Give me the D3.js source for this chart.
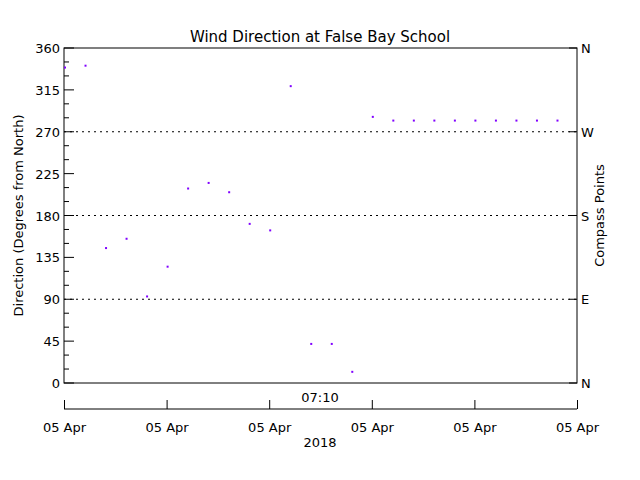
<!DOCTYPE html>
<html lang="en">
<head>
<meta charset="UTF-8">
<title>Wind Direction</title>
<script src="https://cdn.jsdelivr.net/npm/d3@7"></script>
<style>
  body { margin: 0; background: #fff; }
  text { font-family: "DejaVu Sans", sans-serif; font-size: 13px; fill: #000; }
</style>
</head>
<body>
<script>
// minutes after 07:00 on 05 Apr 2018
var minutes = [0, 1, 2, 3, 4, 5, 6, 7, 8, 9, 10, 11, 12, 13, 14, 15, 16, 17, 18, 19, 20, 21, 22, 23, 24];
var direction = [339, 341, 145, 155, 93, 125, 209, 215, 205, 171, 164, 319, 42, 42, 12, 286, 282, 282, 282, 282, 282, 282, 282, 282, 282];
var yTicks = [0, 45, 90, 135, 180, 225, 270, 315, 360];
var compass = [{v: 0, t: "N"}, {v: 90, t: "E"}, {v: 180, t: "S"}, {v: 270, t: "W"}, {v: 360, t: "N"}];
var gridLines = [90, 180, 270];
var timeTicks = [0, 5, 10, 15, 20, 25];

drawChart();

function drawChart() {
  var left = 64, right = 577, top = 48, bottom = 383;
  var base = new Date(2018, 3, 5, 7, 0);
  var t = function (m) { return new Date(base.getTime() + m * 60000); };

  var svg = d3.select("body").append("svg").attr("width", 640).attr("height", 480);

  var x = d3.scaleTime().domain([t(0), t(25)]).range([left, right]);
  var y = d3.scaleLinear().domain([0, 360]).range([bottom, top]);

  svg.append("text").attr("x", 320).attr("y", 42).attr("text-anchor", "middle")
    .style("font-size", "15px").text("Wind Direction at False Bay School");

  // grid
  gridLines.forEach(function (g) {
    svg.append("line").attr("x1", left).attr("x2", right).attr("y1", y(g)).attr("y2", y(g))
      .attr("stroke", "#000").attr("stroke-dasharray", "2,4");
  });

  svg.append("rect").attr("x", left).attr("y", top).attr("width", right - left).attr("height", bottom - top)
    .attr("fill", "none").attr("stroke", "#000");

  // left ticks
  d3.range(0, 361, 15).forEach(function (v) {
    var len = v % 45 === 0 ? 10 : 5;
    svg.append("line").attr("x1", left).attr("x2", left + len).attr("y1", y(v)).attr("y2", y(v)).attr("stroke", "#000");
  });
  yTicks.forEach(function (v) {
    svg.append("text").attr("x", left - 4).attr("y", y(v) + 5).attr("text-anchor", "end").text(v);
  });
  compass.forEach(function (c) {
    svg.append("line").attr("x1", right - 8).attr("x2", right).attr("y1", y(c.v)).attr("y2", y(c.v)).attr("stroke", "#000");
    svg.append("text").attr("x", right + 4).attr("y", y(c.v) + 5).text(c.t);
  });

  svg.append("text").attr("transform", "translate(23," + ((top + bottom) / 2) + ") rotate(-90)")
    .attr("text-anchor", "middle").text("Direction (Degrees from North)");
  svg.append("text").attr("transform", "translate(604," + ((top + bottom) / 2) + ") rotate(-90)")
    .attr("text-anchor", "middle").text("Compass Points");

  // time axis
  var xAxis = d3.axisBottom(x).tickValues(timeTicks.map(t))
    .tickFormat(d3.timeFormat("%d %b")).tickSizeInner(-9).tickSizeOuter(0).tickPadding(14);
  var ax = svg.append("g").attr("transform", "translate(0,409)").call(xAxis);
  ax.select(".domain").attr("d", "M" + left + ",0H" + right);
  ax.selectAll("text").style("font-family", "DejaVu Sans").style("font-size", "13px");
  svg.append("text").attr("x", 320).attr("y", 402).attr("text-anchor", "middle").text("07:10");
  svg.append("text").attr("x", 320).attr("y", 447).attr("text-anchor", "middle").text("2018");

  svg.selectAll("rect.pt").data(direction).enter().append("rect").attr("class", "pt")
    .attr("x", function (d, i) { return x(t(minutes[i])); })
    .attr("y", function (d) { return y(d) - 1; })
    .attr("width", 2).attr("height", 2).attr("fill", "#8000ff");
}
</script>
</body>
</html>
